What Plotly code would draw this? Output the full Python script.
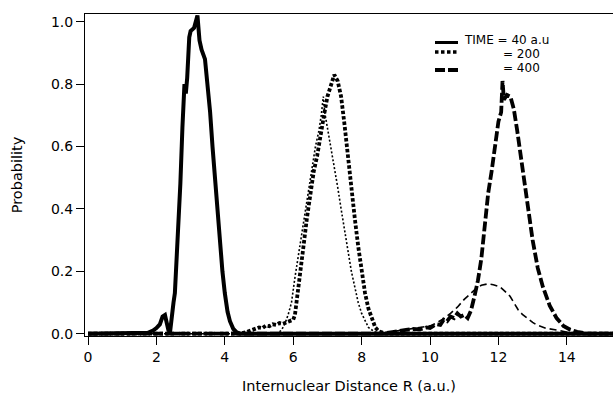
import plotly.graph_objects as go

# ---- data ----
x_t40 = [0, 1.6, 1.75, 1.9, 2.0, 2.1, 2.18, 2.25, 2.3, 2.35, 2.4, 2.45, 2.5, 2.54, 2.6, 2.64, 2.7, 2.76,
         2.82, 2.86, 2.9, 2.96, 3.0, 3.1, 3.2, 3.26, 3.32, 3.42, 3.5, 3.57, 3.64, 3.71, 3.78, 3.86,
         3.93, 4.0, 4.08, 4.15, 4.25, 4.35, 4.45, 15.4]
y_t40 = [0, 0, 0.003, 0.01, 0.018, 0.03, 0.055, 0.06, 0.035, 0.012, 0.006, 0.07, 0.10, 0.13, 0.25, 0.34, 0.48, 0.66,
         0.80, 0.77, 0.82, 0.95, 0.97, 0.98, 1.02, 0.94, 0.91, 0.88, 0.80, 0.71, 0.60, 0.50, 0.39, 0.28,
         0.20, 0.13, 0.07, 0.04, 0.015, 0.004, 0, 0]

x_t200 = [0, 4.4, 4.6, 4.75, 4.9, 5.0, 5.1, 5.2, 5.3, 5.4, 5.5, 5.6, 5.7, 5.8, 5.9, 6.0, 6.05, 6.1, 6.2,
          6.3, 6.4, 6.5, 6.6, 6.7, 6.8, 6.9, 7.0, 7.1, 7.2, 7.3, 7.4, 7.5, 7.6, 7.7, 7.8, 7.9, 8.0,
          8.1, 8.2, 8.3, 8.4, 8.5, 8.7, 15.4]
y_t200 = [0, 0, 0.004, 0.01, 0.014, 0.02, 0.018, 0.026, 0.024, 0.03, 0.028, 0.034, 0.032, 0.036, 0.04, 0.045, 0.06, 0.10, 0.18,
          0.28, 0.37, 0.45, 0.52, 0.57, 0.64, 0.70, 0.76, 0.80, 0.83, 0.81, 0.76, 0.67, 0.56, 0.46, 0.37, 0.28, 0.20,
          0.13, 0.08, 0.045, 0.02, 0.008, 0, 0]

x_t200b = [0, 5.5, 5.65, 5.75, 5.85, 5.95, 6.05, 6.15, 6.25, 6.35, 6.45, 6.55, 6.65, 6.75, 6.82, 6.88, 6.92,
           7.0, 7.1, 7.2, 7.3, 7.4, 7.5, 7.6, 7.7, 7.8, 7.9, 8.0, 8.1, 8.2, 8.35, 8.5, 15.4]
y_t200b = [0, 0, 0.01, 0.03, 0.06, 0.10, 0.18, 0.25, 0.32, 0.39, 0.46, 0.54, 0.60, 0.65, 0.70, 0.76, 0.71,
           0.66, 0.60, 0.53, 0.47, 0.40, 0.33, 0.26, 0.20, 0.15, 0.10, 0.065, 0.04, 0.02, 0.008, 0, 0]

x_t400 = [0, 8.6, 8.9, 9.1, 9.3, 9.5, 9.7, 9.9, 10.0, 10.1, 10.2, 10.3, 10.4, 10.5, 10.6, 10.7, 10.8, 10.9,
          11.0, 11.1, 11.2, 11.3, 11.4, 11.5, 11.6, 11.7, 11.8, 11.9, 12.0, 12.08, 12.12, 12.16, 12.25,
          12.35, 12.45, 12.55, 12.65, 12.75, 12.85, 13.0, 13.15, 13.3, 13.5, 13.7, 13.9, 14.1, 14.3, 14.6, 15.4]
y_t400 = [0, 0, 0.005, 0.01, 0.012, 0.015, 0.014, 0.02, 0.018, 0.025, 0.03, 0.028, 0.045, 0.04, 0.055, 0.05, 0.065, 0.055,
          0.06, 0.05, 0.075, 0.12, 0.17, 0.24, 0.36, 0.45, 0.52, 0.60, 0.68, 0.71, 0.81, 0.75, 0.765,
          0.76, 0.72, 0.65, 0.57, 0.49, 0.41, 0.30, 0.21, 0.15, 0.09, 0.05, 0.025, 0.013, 0.006, 0, 0]

x_t400b = [0, 8.5, 8.8, 9.1, 9.4, 9.7, 10.0, 10.2, 10.4, 10.6, 10.8, 11.0, 11.2, 11.35, 11.5, 11.7, 11.85,
           12.05, 12.2, 12.34, 12.45, 12.58, 12.7, 12.83, 13.0, 13.12, 13.4, 13.8, 14.2, 15.4]
y_t400b = [0, 0, 0.005, 0.01, 0.015, 0.02, 0.025, 0.035, 0.048, 0.065, 0.085, 0.11, 0.13, 0.145, 0.155, 0.16, 0.157,
           0.15, 0.135, 0.12, 0.10, 0.076, 0.062, 0.05, 0.036, 0.028, 0.017, 0.01, 0, 0]

x_ticks = [0, 2, 4, 6, 8, 10, 12, 14]
y_ticks = [0.0, 0.2, 0.4, 0.6, 0.8, 1.0]
legend_labels = ["TIME = 40 a.u", "= 200", "= 400"]

FONT = "DejaVu Sans"
fig = go.Figure()

def add(x, y, width, dash):
    fig.add_trace(go.Scatter(x=x, y=y, mode="lines", showlegend=False, hoverinfo="skip",
                             line=dict(color="black", width=width, dash=dash)))

add(x_t200b, y_t200b, 1.6, "2px,2px")
add(x_t400b, y_t400b, 1.6, "7px,4px")
add(x_t200, y_t200, 3.8, "3.5px,2px")
add(x_t400, y_t400, 3.8, "10px,3px")
add(x_t40, y_t40, 4, "solid")

# legend keys (paper coords)
L, R_, T, B = 85, 613, 14, 336
def px(xp):
    return (xp - L) / (R_ - L)
def py(yp):
    return (B - yp) / (B - T)

keys = [(42.5, 3, "solid"), (52, 3.5, "3.5px,2.5px"), (70, 3.8, "10px,3px")]
for yk, w, d in keys:
    fig.add_shape(type="line", xref="paper", yref="paper", x0=px(435), x1=px(458), y0=py(yk), y1=py(yk),
                  line=dict(color="black", width=w, dash=d))
text_pos = [(463, 40), (502, 54), (502, 68)]
for (tx, ty), lab in zip(text_pos, legend_labels):
    fig.add_annotation(text=lab, xref="paper", yref="paper", x=px(tx), y=py(ty), xanchor="left",
                       yanchor="middle", showarrow=False, borderpad=0,
                       font=dict(family=FONT, size=12, color="black"))

fig.update_layout(
    width=613, height=399,
    margin=dict(l=L, r=0, t=T, b=399 - B, pad=0, autoexpand=False),
    paper_bgcolor="white", plot_bgcolor="white",
    font=dict(family=FONT, size=14, color="black"),
)
fig.update_xaxes(range=[-0.088, 15.35], tickvals=x_ticks, ticktext=[str(v) for v in x_ticks],
                 ticks="outside", ticklen=8, tickwidth=1, tickcolor="black",
                 showline=True, linecolor="black", linewidth=1, mirror=True,
                 showgrid=False, zeroline=False, automargin=False,
                 title=dict(text="Internuclear Distance R (a.u.)", font=dict(size=14.5), standoff=17))
fig.update_yaxes(range=[-0.0074, 1.0247], tickvals=y_ticks, ticktext=[f"{v:.1f}" for v in y_ticks],
                 ticks="outside", ticklen=8, tickwidth=1, tickcolor="black",
                 showline=True, linecolor="black", linewidth=1,
                 showgrid=False, zeroline=False, automargin=False,
                 title=dict(text="Probability", font=dict(size=14.5), standoff=24))

fig.write_html("out.html", config={"displayModeBar": False},
               post_script="document.body.style.margin='0';document.body.style.overflow='hidden';")
